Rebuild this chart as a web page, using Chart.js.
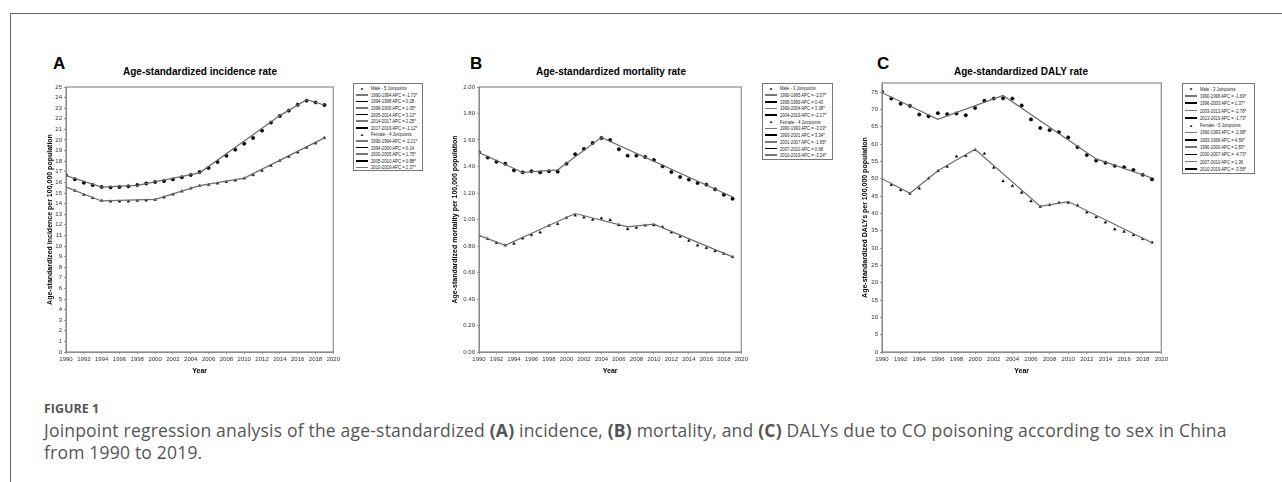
<!DOCTYPE html>
<html>
<head>
<meta charset="utf-8">
<script src="https://cdn.jsdelivr.net/npm/chart.js@4"></script>
<style>
  body { margin: 0; background: #fff; width: 1282px; height: 482px; overflow: hidden; position: relative; font-family: "Liberation Sans", Arial, sans-serif; }
  .frame { position: absolute; left: 10px; top: 13px; right: -5px; bottom: -5px; border-left: 1.5px solid #666; border-top: 1.5px solid #666; }
  canvas { position: absolute; }
  .letter { position: absolute; font-weight: bold; font-size: 17px; color: #000; }
  .ptitle { position: absolute; font-weight: bold; font-size: 10px; color: #000; transform: translateX(-50%); white-space: nowrap; }
  .legend { position: absolute; border: 1px solid #777; background: #fff; padding: 1px 2px; box-sizing: border-box; overflow: hidden;
            font-family: "Liberation Sans Narrow", "Liberation Sans", Arial, sans-serif; font-size: 5.6px; color: #222; }
  .legend .row { display: flex; align-items: center; white-space: nowrap; }
  .legend .sw { display: inline-block; flex: 0 0 12px; width: 12px; margin-right: 3px; text-align: center; }
  .legend .ln { display: inline-block; flex: 0 0 12px; width: 12px; height: 1.6px; margin-right: 3px; }
  .legend .tx { display: inline-block; transform: scaleX(0.76); transform-origin: left center; }
  .cap1 { position: absolute; left: 44px; top: 400px; font-family: "Open Sans", sans-serif; font-weight: bold; font-size: 12.5px; color: #555; }
  .cap2 { position: absolute; left: 44px; top: 419px; width: 1230px; font-family: "Open Sans", sans-serif; font-size: 17.5px; line-height: 22px; color: #555; white-space: nowrap; letter-spacing: 0.2px; }
  .cap2 b { font-weight: 700; color: #555; }
</style>
</head>
<body>
<div class="frame"></div>

<div class="letter" style="left:53px;top:54px">A</div>
<div class="ptitle" style="left:200px;top:66px">Age-standardized incidence rate</div>
<canvas id="chartA" width="322" height="310" style="left:20px;top:80px"></canvas>
<div class="legend" id="legA" style="left:353px;top:83px;width:70px;height:88px"></div>

<div class="letter" style="left:470px;top:54px">B</div>
<div class="ptitle" style="left:611px;top:66px">Age-standardized mortality rate</div>
<canvas id="chartB" width="320" height="310" style="left:430px;top:80px"></canvas>
<div class="legend" id="legB" style="left:762px;top:83px;width:71px;height:77px"></div>

<div class="letter" style="left:877px;top:54px">C</div>
<div class="ptitle" style="left:1021px;top:66px">Age-standardized DALY rate</div>
<canvas id="chartC" width="315" height="314" style="left:855px;top:76px"></canvas>
<div class="legend" id="legC" style="left:1182px;top:83px;width:73px;height:91px"></div>

<div class="cap1">FIGURE 1</div>
<div class="cap2">Joinpoint regression analysis of the age-standardized <b>(A)</b> incidence, <b>(B)</b> mortality, and <b>(C)</b> DALYs due to CO poisoning according to sex in China<br>from 1990 to 2019.</div>

<script>
// ---------- Data ----------
const years = [1990, 1991, 1992, 1993, 1994, 1995, 1996, 1997, 1998, 1999,
               2000, 2001, 2002, 2003, 2004, 2005, 2006, 2007, 2008, 2009,
               2010, 2011, 2012, 2013, 2014, 2015, 2016, 2017, 2018, 2019];
const xTicks = [1990, 1992, 1994, 1996, 1998, 2000, 2002, 2004, 2006, 2008,
                2010, 2012, 2014, 2016, 2018, 2020];

// (A) incidence
const incMale = [16.67, 16.3, 15.97, 15.75, 15.57, 15.53, 15.57, 15.63, 15.75, 15.9,
                 16.04, 16.13, 16.29, 16.48, 16.7, 16.98, 17.36, 17.92, 18.52, 19.09,
                 19.65, 20.19, 20.88, 21.64, 22.26, 22.77, 23.33, 23.71, 23.55, 23.3];
const incFemale = [15.57, 15.22, 14.84, 14.53, 14.28, 14.21, 14.21, 14.21, 14.28, 14.31,
                   14.37, 14.59, 14.87, 15.16, 15.44, 15.69, 15.79, 15.91, 16.04, 16.19,
                   16.38, 16.7, 17.1, 17.58, 18.05, 18.43, 18.84, 19.28, 19.69, 20.2];
const incMaleJoin = [1990, 1994, 1998, 2005, 2014, 2017, 2019];
const incMaleFit = [16.65, 15.55, 15.72, 16.9, 22.3, 23.8, 23.3];
const incFemaleJoin = [1990, 1994, 2000, 2005, 2010, 2019];
const incFemaleFit = [15.55, 14.25, 14.4, 15.7, 16.4, 20.2];
const incLegendMale = ["1990-1994 APC = -1.73*", "1994-1998 APC = 0.28", "1998-2005 APC = 1.05*",
                       "2005-2014 APC = 3.13*", "2014-2017 APC = 2.25*", "2017-2019 APC = -1.12*"];
const incLegendFemale = ["1990-1994 APC = -2.21*", "1994-2000 APC = 0.14", "2000-2005 APC = 1.75*",
                         "2005-2010 APC = 0.88*", "2010-2019 APC = 2.37*"];

// (B) mortality
const morMale = [1.507, 1.467, 1.436, 1.421, 1.371, 1.356, 1.364, 1.356, 1.364, 1.361,
                 1.421, 1.492, 1.532, 1.577, 1.615, 1.6, 1.53, 1.482, 1.482, 1.472,
                 1.449, 1.401, 1.358, 1.321, 1.301, 1.275, 1.263, 1.228, 1.187, 1.157];
const morFemale = [0.878, 0.853, 0.823, 0.805, 0.818, 0.858, 0.883, 0.903, 0.953, 0.966,
                   1.014, 1.031, 1.016, 0.999, 1.009, 0.996, 0.958, 0.928, 0.938, 0.956,
                   0.958, 0.943, 0.903, 0.87, 0.84, 0.805, 0.785, 0.762, 0.742, 0.717];
const morMaleJoin = [1990, 1995, 1999, 2004, 2019];
const morMaleFit = [1.505, 1.355, 1.375, 1.62, 1.17];
const morFemaleJoin = [1990, 1993, 2001, 2007, 2010, 2019];
const morFemaleFit = [0.88, 0.805, 1.045, 0.945, 0.965, 0.718];
const morLegendMale = ["1990-1995 APC = -2.07*", "1995-1999 APC = 0.43", "1999-2004 APC = 3.38*",
                       "2004-2019 APC = -2.17*"];
const morLegendFemale = ["1990-1993 APC = -3.03*", "1993-2001 APC = 3.34*", "2001-2007 APC = -1.65*",
                         "2007-2010 APC = 0.68", "2010-2019 APC = -3.24*"];

// (C) DALYs
const dalyMale = [75.1, 73.1, 71.6, 71.0, 68.5, 68.0, 68.9, 68.6, 68.8, 68.3,
                  70.4, 72.5, 73.1, 73.2, 73.1, 71.1, 67.1, 64.6, 64.0, 63.4,
                  61.9, 59.1, 56.8, 55.2, 54.6, 53.7, 53.3, 52.5, 51.1, 49.8];
const dalyFemale = [49.9, 48.2, 46.7, 45.7, 47.2, 50.1, 52.2, 53.5, 56.4, 56.6,
                    58.3, 57.2, 53.2, 49.3, 47.9, 46.0, 43.5, 41.9, 42.4, 43.1,
                    43.1, 42.3, 40.3, 38.9, 37.4, 35.4, 34.7, 33.7, 32.6, 31.6];
const dalyMaleJoin = [1990, 1996, 2003, 2013, 2019];
const dalyMaleFit = [74.8, 67.1, 74.0, 55.7, 50.2];
const dalyFemaleJoin = [1990, 1993, 1996, 2000, 2007, 2010, 2019];
const dalyFemaleFit = [50.0, 45.8, 52.3, 58.5, 42.0, 43.4, 31.5];
const dalyLegendMale = ["1990-1996 APC = -1.69*", "1996-2003 APC = 1.37*", "2003-2013 APC = -2.78*",
                        "2013-2019 APC = -1.73*"];
const dalyLegendFemale = ["1990-1993 APC = -2.98*", "1993-1996 APC = 4.59*", "1996-2000 APC = 2.83*",
                          "2000-2007 APC = -4.73*", "2007-2010 APC = 1.36", "2010-2019 APC = -3.58*"];

// ---------- Helpers ----------
const TICK_FONT = { family: "'Liberation Sans Narrow', 'Liberation Sans', Arial", size: 6 };
const AXIS_TITLE_FONT = { family: "'Liberation Sans', Arial", size: 7, weight: 'bold' };
const FIT_COLOR = '#6a6a6a';

function pts(xs, ys) {
  return xs.map((x, i) => ({ x: x, y: ys[i] }));
}

// draws the box around the plot area
const plotFrame = {
  id: 'plotFrame',
  afterDraw(chart) {
    const a = chart.chartArea, c = chart.ctx;
    c.save();
    c.strokeStyle = '#8c8c8c';
    c.lineWidth = 1.2;
    c.strokeRect(a.left, a.top, a.right - a.left, a.bottom - a.top);
    c.restore();
  }
};

function makePanel(id, o) {
  new Chart(document.getElementById(id), {
    type: 'scatter',
    data: {
      datasets: [
        { data: pts(o.maleJoin, o.maleFit), showLine: true, borderColor: FIT_COLOR, borderWidth: 1.2, pointRadius: 0 },
        { data: pts(o.femaleJoin, o.femaleFit), showLine: true, borderColor: FIT_COLOR, borderWidth: 1.2, pointRadius: 0 },
        { data: pts(years, o.male), pointStyle: 'circle', pointRadius: 1.7, backgroundColor: '#000', borderColor: '#000', borderWidth: 0.5 },
        { data: pts(years, o.female), pointStyle: 'triangle', pointRadius: 1.7, backgroundColor: '#000', borderColor: '#000', borderWidth: 0.3 }
      ]
    },
    options: {
      responsive: false,
      animation: false,
      layout: { padding: { top: o.padTop, right: o.padRight, left: 0, bottom: 0 } },
      plugins: { legend: { display: false }, tooltip: { enabled: false } },
      scales: {
        x: {
          type: 'linear', min: 1990, max: 2020,
          afterBuildTicks: (axis) => { axis.ticks = xTicks.map(v => ({ value: v })); },
          ticks: { font: TICK_FONT, color: '#333', maxRotation: 0, autoSkip: false, padding: 2, callback: v => String(v) },
          grid: { display: true, drawOnChartArea: false, tickLength: 2, color: '#999' },
          border: { color: '#8c8c8c' },
          title: { display: true, text: 'Year', font: { family: "'Liberation Sans', Arial", size: 7, weight: 'bold' }, color: '#000', padding: { top: 0, bottom: 15 } },
          afterFit: (axis) => { axis.height = 38; }
        },
        y: {
          min: 0, max: o.ymax,
          afterBuildTicks: (axis) => { axis.ticks = o.yTicks.map(v => ({ value: v })); },
          ticks: { font: TICK_FONT, color: '#333', padding: 2, callback: o.yFmt },
          grid: { display: true, drawOnChartArea: false, tickLength: 2, color: '#999' },
          border: { color: '#8c8c8c' },
          title: { display: true, text: o.yTitle, font: AXIS_TITLE_FONT, color: '#000', padding: { top: o.titleOffset, bottom: 0 } },
          afterFit: (axis) => { axis.width = o.yWidth; }
        }
      }
    },
    plugins: [plotFrame]
  });
}

function buildLegend(id, maleHead, maleRows, femaleHead, femaleRows, rowH) {
  const el = document.getElementById(id);
  let html = '';
  let k = 0;
  const addLines = (rows) => {
    rows.forEach(t => {
      const col = (k++ % 2 === 0) ? '#777' : '#000';
      html += `<div class="row" style="height:${rowH}px"><span class="ln" style="background:${col}"></span><span class="tx">${t}</span></div>`;
    });
  };
  html += `<div class="row" style="height:${rowH}px"><span class="sw" style="font-size:7px">&#8226;</span><span class="tx">${maleHead}</span></div>`;
  addLines(maleRows);
  html += `<div class="row" style="height:${rowH}px"><span class="sw" style="font-size:4.5px">&#9650;</span><span class="tx">${femaleHead}</span></div>`;
  addLines(femaleRows);
  el.innerHTML = html;
}

// ---------- Panels ----------
makePanel('chartA', {
  male: incMale, female: incFemale,
  maleJoin: incMaleJoin, maleFit: incMaleFit,
  femaleJoin: incFemaleJoin, femaleFit: incFemaleFit,
  ymax: 25, yTicks: [0, 1, 2, 3, 4, 5, 6, 7, 8, 9, 10, 11, 12, 13, 14, 15, 16, 17, 18, 19, 20, 21, 22, 23, 24, 25],
  yFmt: v => String(v),
  yTitle: 'Age-standardized incidence per 100,000 population',
  yWidth: 46, padTop: 7, padRight: 8, titleOffset: 26
});

makePanel('chartB', {
  male: morMale, female: morFemale,
  maleJoin: morMaleJoin, maleFit: morMaleFit,
  femaleJoin: morFemaleJoin, femaleFit: morFemaleFit,
  ymax: 2, yTicks: [0, 0.2, 0.4, 0.6, 0.8, 1.0, 1.2, 1.4, 1.6, 1.8, 2.0],
  yFmt: v => v.toFixed(2),
  yTitle: 'Age-standardized mortality per 100,000 population',
  yWidth: 49, padTop: 7, padRight: 7, titleOffset: 21
});

makePanel('chartC', {
  male: dalyMale, female: dalyFemale,
  maleJoin: dalyMaleJoin, maleFit: dalyMaleFit,
  femaleJoin: dalyFemaleJoin, femaleFit: dalyFemaleFit,
  ymax: 77.6, yTicks: [0, 5, 10, 15, 20, 25, 30, 35, 40, 45, 50, 55, 60, 65, 70, 75],
  yFmt: v => String(v),
  yTitle: "Age-standardized DALYs per 100,000 population",
  yWidth: 27, padTop: 7, padRight: 8, titleOffset: 6
});

buildLegend('legA', 'Male - 5 Joinpoints', incLegendMale, 'Female - 4 Joinpoints', incLegendFemale, 6.6);
buildLegend('legB', 'Male - 3 Joinpoints', morLegendMale, 'Female - 4 Joinpoints', morLegendFemale, 6.7);
buildLegend('legC', 'Male - 3 Joinpoints', dalyLegendMale, 'Female - 5 Joinpoints', dalyLegendFemale, 7.3);
</script>
</body>
</html>
